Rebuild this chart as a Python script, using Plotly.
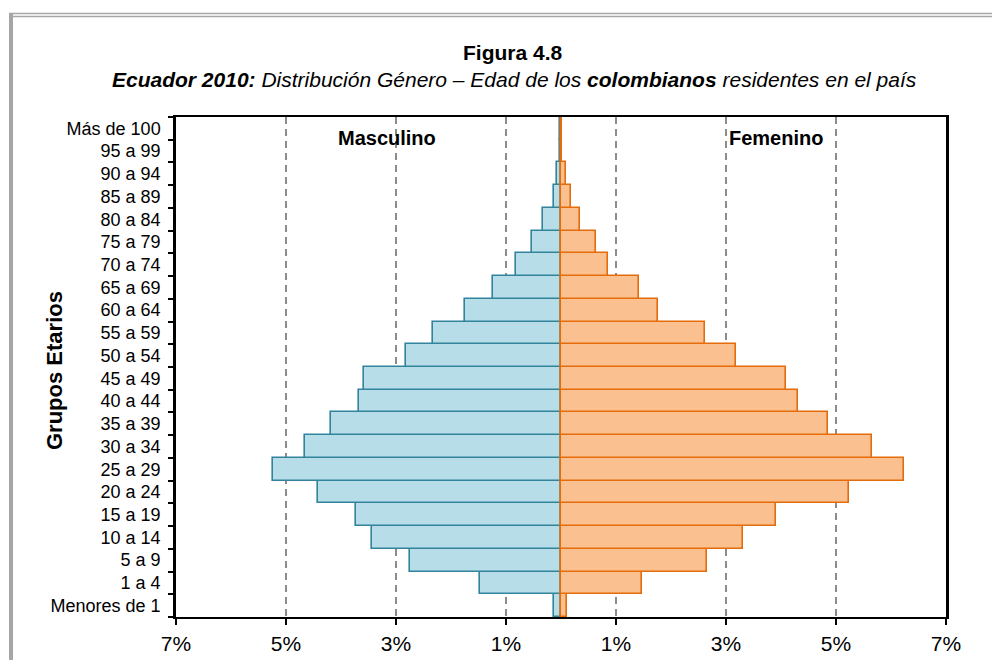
import plotly.graph_objects as go

# age groups, bottom to top
age_groups = [
    "Menores de 1", "1 a 4", "5 a 9", "10 a 14", "15 a 19", "20 a 24",
    "25 a 29", "30 a 34", "35 a 39", "40 a 44", "45 a 49", "50 a 54",
    "55 a 59", "60 a 64", "65 a 69", "70 a 74", "75 a 79", "80 a 84",
    "85 a 89", "90 a 94", "95 a 99", "Más de 100",
]
# share of the colombian population in Ecuador, %
masculino = [0.13, 1.48, 2.74, 3.44, 3.73, 4.42, 5.24, 4.65, 4.18, 3.68, 3.58,
             2.82, 2.33, 1.74, 1.24, 0.82, 0.53, 0.32, 0.13, 0.07, 0.02, 0.01]
femenino = [0.10, 1.47, 2.66, 3.31, 3.90, 5.23, 6.24, 5.65, 4.85, 4.30, 4.09,
            3.19, 2.61, 1.77, 1.41, 0.85, 0.63, 0.34, 0.19, 0.09, 0.02, 0.02]

x_ticks = [-7, -5, -3, -1, 1, 3, 5, 7]
x_labels = ["7%", "5%", "3%", "1%", "1%", "3%", "5%", "7%"]

MALE_FILL, MALE_LINE = "#b7dde8", "#31849b"
FEM_FILL, FEM_LINE = "#fac090", "#e46c0a"
FONT = "Liberation Sans, Arial, sans-serif"

# the page has an 8px body margin, so the figure is laid out 8px in from the
# top-left corner of the screenshot; plot area lands on x 176..946, y 117..617
W, H, OFF = 984, 652, 8
PLOT_L, PLOT_R, PLOT_T, PLOT_B = 176, 946, 117, 617


def to_paper(xs, ys):
    """screen pixel -> paper fraction"""
    return (xs - PLOT_L) / (PLOT_R - PLOT_L), (PLOT_B - ys) / (PLOT_B - PLOT_T)


fig = go.Figure()
fig.add_trace(go.Bar(
    y=age_groups, x=[-v for v in masculino], orientation="h", name="Masculino",
    marker=dict(color=MALE_FILL, line=dict(color=MALE_LINE, width=1.6)),
))
fig.add_trace(go.Bar(
    y=age_groups, x=femenino, orientation="h", name="Femenino",
    marker=dict(color=FEM_FILL, line=dict(color=FEM_LINE, width=1.6)),
))

fig.update_layout(
    width=W, height=H,
    paper_bgcolor="white", plot_bgcolor="white",
    margin=dict(l=PLOT_L - OFF, r=W - (PLOT_R - OFF), t=PLOT_T - OFF, b=H - (PLOT_B - OFF),
                autoexpand=False),
    barmode="overlay", bargap=0,
    showlegend=False,
    font=dict(family=FONT, color="black", size=18),
)

fig.update_xaxes(
    range=[-7, 7], tickvals=x_ticks, ticktext=x_labels,
    tickfont=dict(size=21), ticks="outside", ticklen=6, tickwidth=1.5, tickcolor="black",
    ticklabelstandoff=1,
    showgrid=True, gridcolor="#8c8c8c", griddash="7px,5px", gridwidth=1.5,
    showline=True, linecolor="black", linewidth=2, mirror=True,
    zeroline=False, fixedrange=True,
)
fig.update_yaxes(
    categoryorder="array", categoryarray=age_groups,
    tickson="boundaries", ticks="outside", ticklen=5, tickcolor="black", tickwidth=2,
    tickfont=dict(size=18), ticklabelstandoff=9,
    showline=True, linecolor="black", linewidth=2.5, mirror=True,
    showgrid=False, fixedrange=True,
)

texts = [
    ("<b>Figura 4.8</b>", 513, 52, 21, 0),
    ("<b><i>Ecuador 2010:</i></b><i> Distribución Género – Edad de los </i>"
     "<b><i>colombianos</i></b><i> residentes en el país</i>", 514, 80, 21, 0),
    ("<b>Masculino</b>", 387, 138, 20, 0),
    ("<b>Femenino</b>", 776, 138, 20, 0),
    ("<b>Grupos Etarios</b>", 54, 371, 22, -90),
]
for text, xs, ys, size, angle in texts:
    xr, yr = to_paper(xs, ys)
    fig.add_annotation(x=xr, y=yr, xref="paper", yref="paper", text=text,
                       showarrow=False, font=dict(size=size), textangle=angle,
                       xanchor="center", yanchor="middle")

# gray page frame: thick left rule, double top rule
gray = "#a6a6a6"
xl, _ = to_paper(11, 0)
xr_end, _ = to_paper(1010, 0)
_, y_top1 = to_paper(0, 13.5)
_, y_top2 = to_paper(0, 16.5)
_, y_bot = to_paper(0, 700)
fig.add_shape(type="line", xref="paper", yref="paper", x0=xl, x1=xl, y0=y_top1, y1=y_bot,
              line=dict(color=gray, width=4))
fig.add_shape(type="line", xref="paper", yref="paper", x0=to_paper(9, 0)[0], x1=xr_end,
              y0=y_top1, y1=y_top1, line=dict(color=gray, width=1.6))
fig.add_shape(type="line", xref="paper", yref="paper", x0=xl, x1=xr_end,
              y0=y_top2, y1=y_top2, line=dict(color=gray, width=1.6))

fig.write_html("out.html")
